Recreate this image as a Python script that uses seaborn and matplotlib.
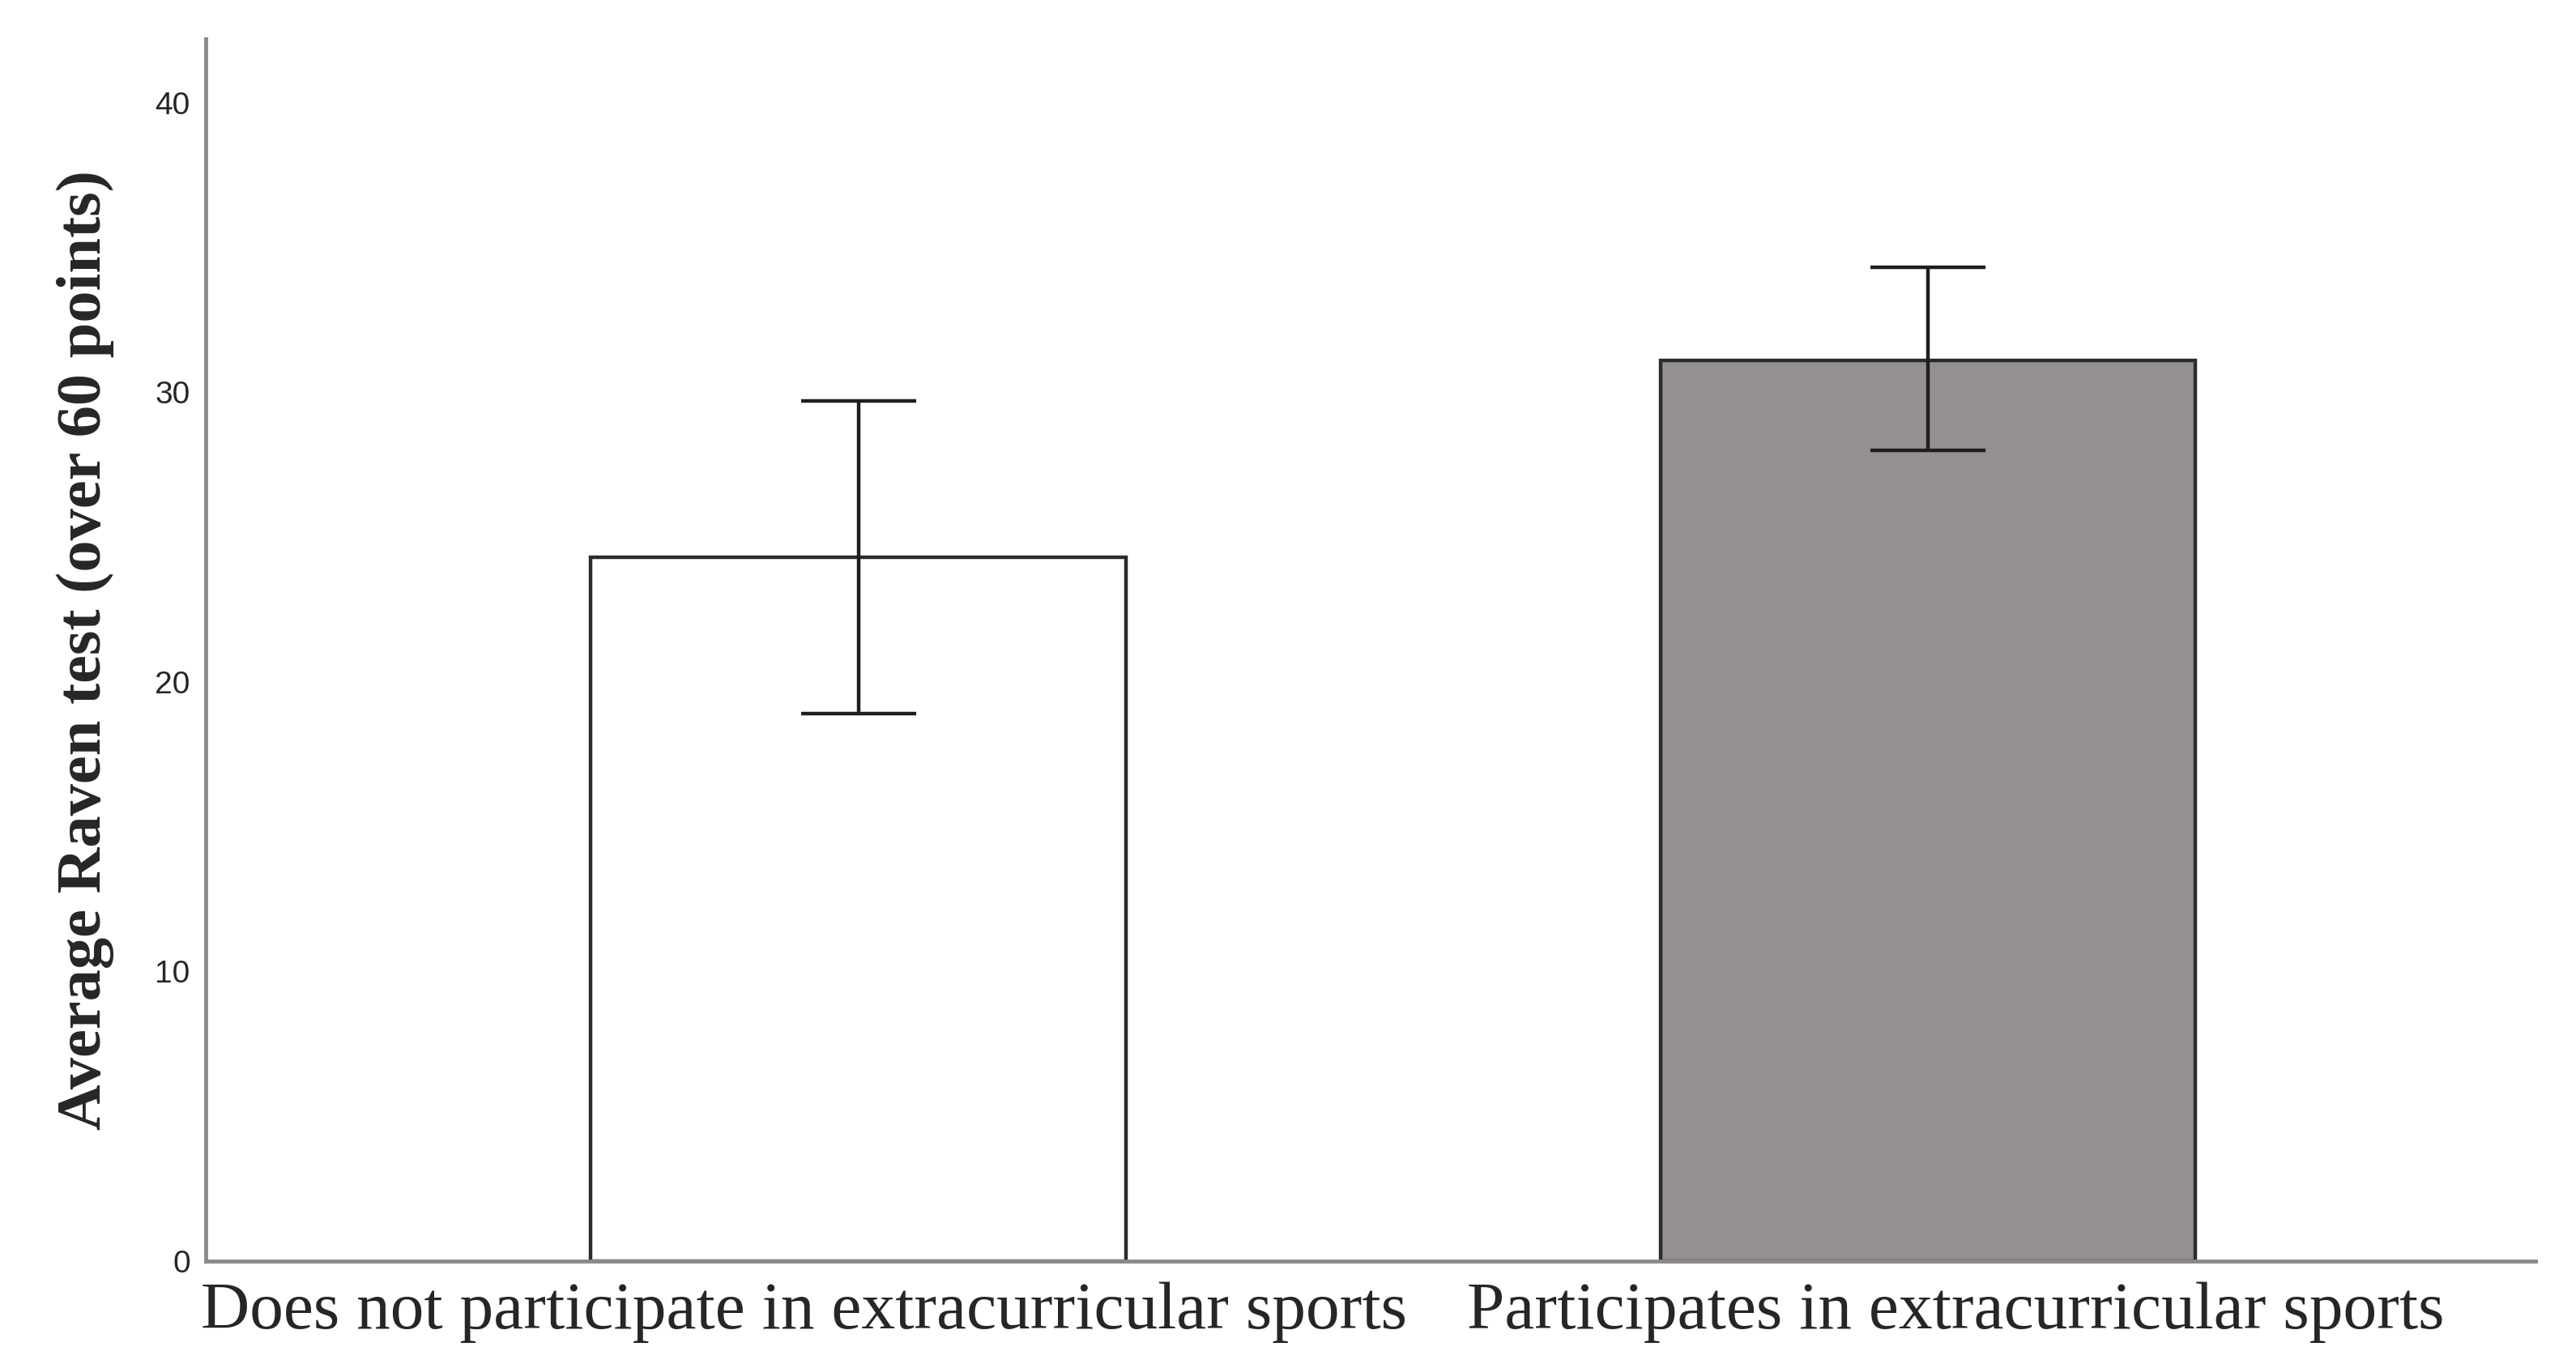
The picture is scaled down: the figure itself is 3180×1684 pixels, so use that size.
import matplotlib
matplotlib.use('Agg')
import matplotlib.pyplot as plt
import matplotlib.transforms as mtransforms
import seaborn as sns
import pandas as pd

# values
groups = ['Does not participate in extracurricular sports',
          'Participates in extracurricular sports']
means = [24.3, 31.1]
err_low = [18.9, 28.0]
err_high = [29.7, 34.3]
bar_colors = ['#ffffff', '#958f8e']

df = pd.DataFrame({'group': groups, 'score': means})

sns.set_style('white')
fig = plt.figure(figsize=(31.8, 16.84), dpi=100)
ax = fig.add_axes([0.0799, 0.0754, 0.9044, 0.8961])

sns.barplot(data=df, x='group', y='score', hue='group', palette=bar_colors,
            width=0.5, errorbar=None, legend=False, ax=ax,
            edgecolor='#2b2b2b', linewidth=3.2)

yerr = [[m - lo for m, lo in zip(means, err_low)],
        [hi - m for m, hi in zip(means, err_high)]]
ax.errorbar(range(len(groups)), means, yerr=yerr, fmt='none',
            ecolor='#1e1e1e', elinewidth=3.2, capsize=51, capthick=3.2)

ax.set_ylim(0, 42.2)
ax.set_xlim(-0.61, 1.568)
ax.set_yticks([0, 10, 20, 30, 40])
ax.tick_params(axis='y', length=0, pad=14, labelsize=28)
ax.tick_params(axis='x', length=0, pad=18)
for lbl in ax.get_yticklabels():
    lbl.set_fontfamily('Liberation Sans')
ax.set_xticks(range(len(groups)))
ax.set_xticklabels(groups, fontsize=60, fontfamily='Liberation Serif')
# labels in the original sit a little off the bar centres
shifts = [-67, 34]
for lbl, dx in zip(ax.get_xticklabels(), shifts):
    lbl.set_transform(lbl.get_transform() +
                      mtransforms.ScaledTranslation(dx / 100, 0, fig.dpi_scale_trans))
ax.set_xlabel('')
ax.set_ylabel('Average Raven test (over 60 points)', fontsize=56.5,
              fontfamily='Liberation Serif', fontweight='bold', labelpad=36)

sns.despine(ax=ax)
for side in ['left', 'bottom']:
    ax.spines[side].set_color('#8a8a8a')
    ax.spines[side].set_linewidth(3.5)

fig.savefig('out.png', dpi=100, facecolor='white')
